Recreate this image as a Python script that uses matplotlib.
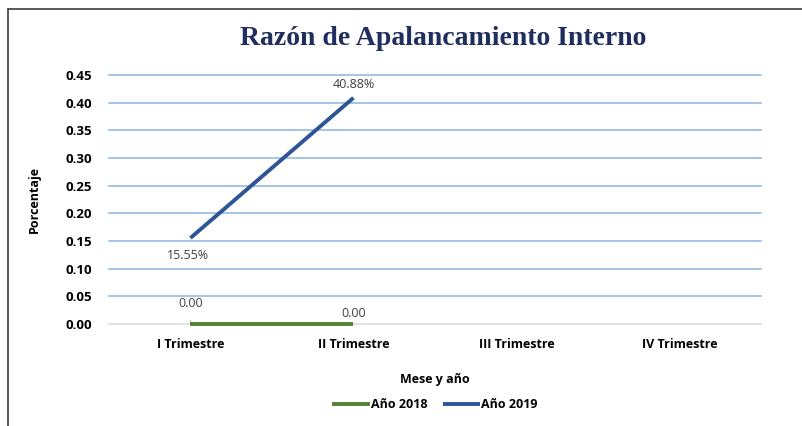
# Razón de Apalancamiento Interno - line chart by trimestre

import matplotlib.pyplot as plt
from matplotlib.patches import Rectangle

categorias = ['I Trimestre', 'II Trimestre', 'III Trimestre', 'IV Trimestre']
anio_2018 = [0.0, 0.0]
anio_2019 = [0.1555, 0.4088]
etiquetas_2018 = ['0.00', '0.00']
etiquetas_2019 = ['15.55%', '40.88%']
yticks = [0.0, 0.05, 0.10, 0.15, 0.20, 0.25, 0.30, 0.35, 0.40, 0.45]

plt.rcParams['font.family'] = ['Open Sans', 'DejaVu Sans']

fig = plt.figure(figsize=(8.03, 4.26), dpi=100)
ax = fig.add_axes([0.1357, 0.2394, 0.812, 0.5845])

# chart frame (top and left edges visible)
fig.add_artist(Rectangle((0.010, -0.05), 1.2, 1.029, transform=fig.transFigure,
                         fill=False, edgecolor='#3a3a3a', linewidth=1.2))

x = list(range(len(categorias)))
ax.plot(x[:2], anio_2018, color='#548235', linewidth=2.8, label='Año 2018',
        solid_capstyle='butt', zorder=4, clip_on=False)
ax.plot(x[:2], anio_2019, color='#2F5597', linewidth=2.8, label='Año 2019',
        solid_capstyle='butt', zorder=4, clip_on=False)

# small leader tick at first point
ax.plot([0, 0], [0.0, 0.008], color='#bfbfbf', linewidth=0.8, zorder=2)

ax.annotate(etiquetas_2019[0], (x[0], anio_2019[0]), xytext=(-2, -8),
            textcoords='offset points', ha='center', va='top', fontsize=9, color='#404040')
ax.annotate(etiquetas_2019[1], (x[1], anio_2019[1]), xytext=(0, 5),
            textcoords='offset points', ha='center', va='bottom', fontsize=9, color='#404040')
ax.annotate(etiquetas_2018[0], (x[0], anio_2018[0]), xytext=(0, 10),
            textcoords='offset points', ha='center', va='bottom', fontsize=9, color='#404040')
ax.annotate(etiquetas_2018[1], (x[1], anio_2018[1]), xytext=(0, 3),
            textcoords='offset points', ha='center', va='bottom', fontsize=9, color='#404040')

ax.set_xlim(-0.5, 3.5)
ax.set_ylim(0, 0.45)
ax.set_yticks(yticks)
ax.set_yticklabels([f'{v:.2f}' for v in yticks], fontsize=9.5, fontweight='bold')
ax.set_xticks(x)
ax.set_xticklabels(categorias, fontsize=9, fontweight='bold')
ax.tick_params(length=0, pad=10)
ax.tick_params(axis='y', pad=12)

for v in yticks[1:]:
    ax.axhline(v, color='#8DB4E2', linewidth=1.1, zorder=1, clip_on=False)
ax.axhline(0, color='#d9d9d9', linewidth=1.1, zorder=1, clip_on=False)
for s in ax.spines.values():
    s.set_visible(False)

ax.set_xlabel('Mese y año', fontsize=9, fontweight='bold', labelpad=16)
ax.set_ylabel('Porcentaje', fontsize=9, fontweight='bold', labelpad=18)

fig.text(0.552, 0.91, 'Razón de Apalancamiento Interno', ha='center', va='center',
         fontsize=20, fontweight='bold', color='#1F2E5E', family='Liberation Serif')

ax.legend(loc='center', bbox_to_anchor=(0.5, -0.325), ncol=2, frameon=False,
          prop={'size': 9, 'weight': 'bold'}, handlelength=3.0, handletextpad=0.1,
          columnspacing=1.2)

fig.savefig('out.png', dpi=100)
